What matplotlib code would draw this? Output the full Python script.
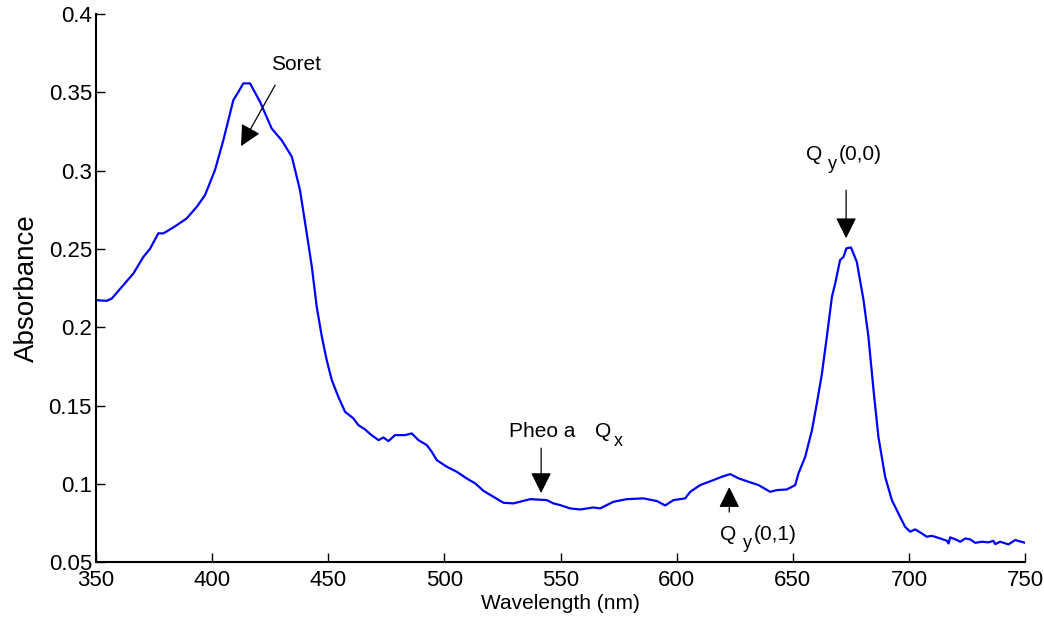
import matplotlib
matplotlib.use("Agg")
import matplotlib.pyplot as plt

plt.rcParams['font.family'] = ['Liberation Sans', 'DejaVu Sans']

# spectrum
wavelength = [350.0, 354.6, 356.8, 361.1, 366.1, 370.4, 373.3, 376.8, 379.0, 383.3,
              389.0, 393.4, 396.9, 401.2, 404.8, 409.1, 411.3, 413.4, 416.3, 420.6,
              425.6, 429.9, 434.3, 437.8, 440.7, 442.9, 445.0, 447.2, 449.3, 451.5,
              454.3, 457.2, 460.8, 462.9, 465.8, 468.0, 471.6, 473.7, 475.9, 478.7,
              483.0, 485.9, 488.8, 492.4, 494.5, 496.7, 501.0, 505.3, 509.6, 513.2,
              516.8, 521.1, 525.4, 529.7, 536.9, 544.0, 546.9, 549.8, 554.1, 558.4,
              564.1, 567.0, 572.7, 578.5, 585.6, 591.4, 595.0, 598.6, 603.6, 605.8,
              610.1, 615.8, 619.4, 623.0, 626.6, 630.9, 635.2, 640.2, 643.1, 647.4,
              651.0, 652.4, 655.3, 658.2, 660.3, 662.5, 664.6, 666.8, 668.2, 670.3,
              671.8, 673.0, 675.0, 677.5, 680.4, 682.5, 684.7, 686.8, 689.7, 692.6,
              695.4, 698.3, 700.5, 702.6, 705.5, 707.6, 709.8, 713.4, 716.3, 717.0,
              717.7, 720.6, 722.0, 724.2, 726.3, 728.5, 731.4, 734.2, 736.3, 737.1,
              739.2, 742.8, 745.7, 750.0]
absorbance = [0.2173, 0.2169, 0.2184, 0.2258, 0.2344, 0.2450, 0.2503, 0.2600, 0.2600, 0.2638,
              0.2695, 0.2770, 0.2844, 0.3004, 0.3195, 0.3451, 0.3504, 0.3558, 0.3558, 0.3440,
              0.3270, 0.3195, 0.3089, 0.2876, 0.2600, 0.2386, 0.2130, 0.1940, 0.1790, 0.1662,
              0.1556, 0.1460, 0.1418, 0.1375, 0.1348, 0.1318, 0.1279, 0.1296, 0.1273, 0.1311,
              0.1311, 0.1322, 0.1279, 0.1247, 0.1205, 0.1151, 0.1109, 0.1077, 0.1034, 0.1003,
              0.0955, 0.0917, 0.0879, 0.0875, 0.0902, 0.0896, 0.0875, 0.0864, 0.0843, 0.0836,
              0.0849, 0.0843, 0.0885, 0.0902, 0.0907, 0.0890, 0.0862, 0.0896, 0.0907, 0.0949,
              0.0992, 0.1024, 0.1045, 0.1062, 0.1035, 0.1013, 0.0992, 0.0949, 0.0960, 0.0964,
              0.0992, 0.1067, 0.1173, 0.1343, 0.1514, 0.1705, 0.1940, 0.2195, 0.2280, 0.2429,
              0.2450, 0.2504, 0.2510, 0.2418, 0.2173, 0.1940, 0.1599, 0.1300, 0.1045, 0.0896,
              0.0811, 0.0725, 0.0694, 0.0709, 0.0683, 0.0662, 0.0668, 0.0651, 0.0636, 0.0619,
              0.0658, 0.0641, 0.0630, 0.0651, 0.0645, 0.0623, 0.0630, 0.0626, 0.0636, 0.0615,
              0.0630, 0.0613, 0.0641, 0.0623]

xticks = [350, 400, 450, 500, 550, 600, 650, 700, 750]
yticks = [0.05, 0.1, 0.15, 0.2, 0.25, 0.3, 0.35, 0.4]
ytick_labels = ['0.05', '0.1', '0.15', '0.2', '0.25', '0.3', '0.35', '0.4']

fig = plt.figure(figsize=(10.44, 6.17), dpi=100)
ax = fig.add_axes([0.092, 0.089, 0.890, 0.888])
ax.plot(wavelength, absorbance, color='#0000ff', lw=1.6)

ax.set_xlim(350, 750)
ax.set_ylim(0.05, 0.4)
ax.set_xticks(xticks)
ax.set_yticks(yticks)
ax.set_yticklabels(ytick_labels)
ax.tick_params(direction='in', length=6.5, width=1, labelsize=16)
ax.tick_params(axis='x', pad=6)
ax.tick_params(axis='y', pad=3)
for s in ['top', 'right']:
    ax.spines[s].set_visible(False)
for s in ['left', 'bottom']:
    ax.spines[s].set_linewidth(1.5)
ax.set_xlabel('Wavelength (nm)', fontsize=15, labelpad=2)
ax.set_ylabel('Absorbance', fontsize=20, labelpad=6)

arrow = dict(arrowstyle='-|>', color='k', lw=0.9, mutation_scale=32,
             shrinkA=0, shrinkB=0)
txt = dict(fontsize=15, ha='left', va='baseline')
sub = dict(fontsize=13, ha='left', va='baseline')

# Soret
ax.annotate('', xy=(412.4, 0.3157), xytext=(427.1, 0.3547), arrowprops=arrow)
ax.text(436.0, 0.3642, 'Soret', fontsize=15, ha='center', va='baseline')

# Qy(0,0)
ax.annotate('', xy=(672.9, 0.2569), xytext=(672.9, 0.2876), arrowprops=arrow)
ax.text(655.7, 0.3068, 'Q', **txt)
ax.text(665.0, 0.3008, 'y', **sub)
ax.text(669.9, 0.3068, '(0,0)', **txt)

# Pheo a Qx
ax.annotate('', xy=(541.6, 0.0941), xytext=(541.6, 0.1228), arrowprops=arrow)
ax.text(527.8, 0.1300, 'Pheo a', **txt)
ax.text(564.9, 0.1300, 'Q', **txt)
ax.text(573.0, 0.1241, 'x', **sub)

# Qy(0,1)
ax.annotate('', xy=(622.6, 0.0979), xytext=(622.6, 0.0819), arrowprops=arrow)
ax.text(618.7, 0.0641, 'Q', **txt)
ax.text(628.4, 0.0591, 'y', **sub)
ax.text(633.3, 0.0641, '(0,1)', **txt)

fig.savefig('out.png', dpi=100)
